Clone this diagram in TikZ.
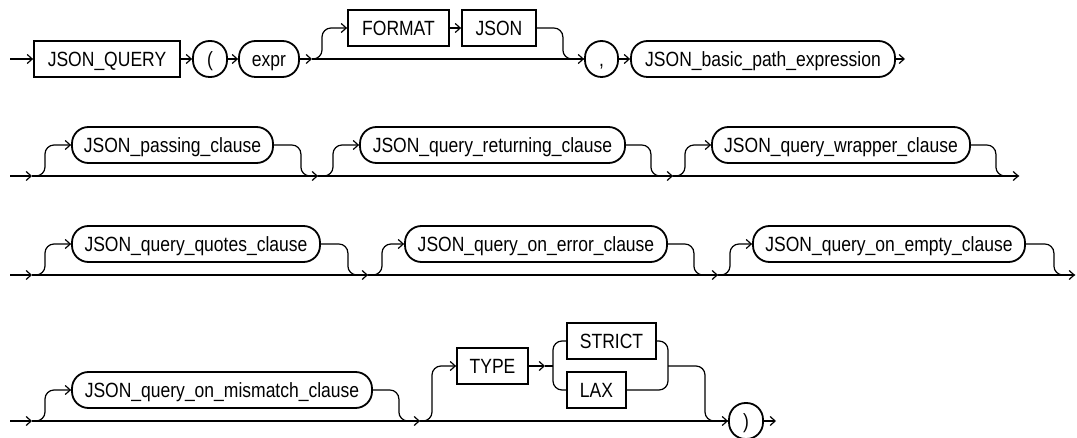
\documentclass[tikz,border=0pt]{standalone}
\usepackage{fontspec}
\setmainfont{Liberation Sans}[FakeStretch=0.85]
\usepackage{tikz}
\usetikzlibrary{arrows.meta}

\begin{document}
\begin{tikzpicture}[x=1pt, y=-1pt, line width=1.2pt, >={Straight Barb[length=5pt,width=9pt]},
  every node/.style={font=\fontsize{20.6}{24}\selectfont, inner sep=0pt, text height=14.7pt, text depth=0pt, minimum height=36pt},
  kw/.style={draw, line width=1.8pt},
  nt/.style={draw, line width=1.8pt, rounded corners=16.5pt},
  curvy/.style={rounded corners=9pt}]
\useasboundingbox (0,0) rectangle (1077,438);

\coordinate (a0) at (10,59);
\node[kw, minimum width=146pt] (jq) at (107,59) {JSON\_QUERY};
\node[nt, minimum width=34pt] (lp) at (210,59) {(};
\node[nt, minimum width=60pt] (ex) at (269,59) {expr};
\coordinate (a1) at (312,59);
\node[kw, minimum width=101pt] (fm) at (398.5,28) {FORMAT};
\node[kw, minimum width=74pt] (js) at (499,28) {JSON};
\node[nt, minimum width=33pt] (cm) at (601.5,59) {,};
\node[nt, minimum width=264pt] (bp) at (763,59) {JSON\_basic\_path\_expression};
\coordinate (a2) at (905,59);
\draw[->] (a0) -- (jq);
\draw[->] (jq) -- (lp);
\draw[->] (lp) -- (ex);
\draw[->] (ex) -- (a1);
\draw[->] (a1) -- (cm);
\draw[->,curvy] (a1) -- ++(10,0) |- (fm);
\draw[->] (fm) -- (js);
\draw[curvy] (js.east) -- ++(26,0) |- (cm);
\draw[->] (cm) -- (bp);
\draw[->] (bp) -- (a2);

\coordinate (b0) at (10,176);
\coordinate (b1) at (32,176);
\node[nt, minimum width=201pt] (pc) at (172.5,145) {JSON\_passing\_clause};
\coordinate (b2) at (318,176);
\node[nt, minimum width=265pt] (rc) at (492.5,145) {JSON\_query\_returning\_clause};
\coordinate (b3) at (673,176);
\node[nt, minimum width=258pt] (wc) at (841,145) {JSON\_query\_wrapper\_clause};
\coordinate (b4) at (1019,176);
\draw[->] (b0) -- (b1);
\draw[->] (b1) -- (b2);
\draw[->] (b2) -- (b3);
\draw[->] (b3) -- (b4);
\draw[->,curvy] (b1) -- ++(13,0) |- (pc);
\draw[curvy] (pc.east) -- ++(27,0) |- (b2);
\draw[->,curvy] (b2) -- ++(15,0) |- (rc);
\draw[curvy] (rc.east) -- ++(25,0) |- (b3);
\draw[->,curvy] (b3) -- ++(12,0) |- (wc);
\draw[curvy] (wc.east) -- ++(25,0) |- (b4);

\coordinate (c0) at (10,275);
\coordinate (c1) at (32,275);
\node[nt, minimum width=248pt] (qc) at (196,244) {JSON\_query\_quotes\_clause};
\coordinate (c2) at (368,275);
\node[nt, minimum width=262pt] (ec) at (536,244) {JSON\_query\_on\_error\_clause};
\coordinate (c3) at (718,275);
\node[nt, minimum width=272pt] (mc) at (889,244) {JSON\_query\_on\_empty\_clause};
\coordinate (c4) at (1075,275);
\draw[->] (c0) -- (c1);
\draw[->] (c1) -- (c2);
\draw[->] (c2) -- (c3);
\draw[->] (c3) -- (c4);
\draw[->,curvy] (c1) -- ++(13,0) |- (qc);
\draw[curvy] (qc.east) -- ++(27,0) |- (c2);
\draw[->,curvy] (c2) -- ++(14,0) |- (ec);
\draw[curvy] (ec.east) -- ++(26,0) |- (c3);
\draw[->,curvy] (c3) -- ++(12,0) |- (mc);
\draw[curvy] (mc.east) -- ++(28,0) |- (c4);

\coordinate (d0) at (10,421);
\coordinate (d1) at (32,421);
\node[nt, minimum width=300pt] (mm) at (222,390) {JSON\_query\_on\_mismatch\_clause};
\coordinate (d2) at (420,421);
\node[kw, minimum width=71pt] (ty) at (492.5,366) {TYPE};
\coordinate (d3) at (545,366);
\coordinate (d4) at (553,366);
\node[kw, minimum width=89pt] (st) at (611.5,341) {STRICT};
\node[kw, minimum width=59pt] (lx) at (596.5,390) {LAX};
\coordinate (d5) at (668,366);
\node[nt, minimum width=34pt] (rp) at (746,421) {)};
\coordinate (d6) at (776,421);
\draw[->] (d0) -- (d1);
\draw[->] (d1) -- (d2);
\draw[->] (d2) -- (rp);
\draw[->] (rp) -- (d6);
\draw[->,curvy] (d1) -- ++(13,0) |- (mm);
\draw[curvy] (mm.east) -- ++(26,0) |- (d2);
\draw[->,curvy] (d2) -- ++(12,0) |- (ty);
\draw[->] (ty) -- (d3);
\draw (d3) -- (d4);
\draw[curvy] (st) -| (d4) |- (lx);
\draw[curvy] (st) -| (d5) |- (lx);
\draw[curvy] (d5) -- ++(37,0) |- (rp);
\end{tikzpicture}
\end{document}
